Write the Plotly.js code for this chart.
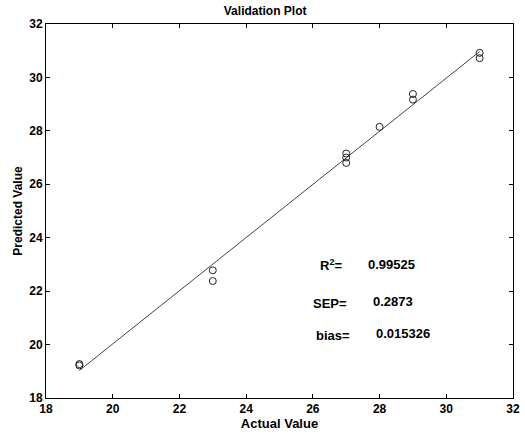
<!DOCTYPE html>
<html>
<head>
<meta charset="utf-8">
<script src="https://cdn.plot.ly/plotly-3.0.1.min.js"></script>
<style>html,body{margin:0;padding:0;background:#fff;}</style>
</head>
<body>
<div id="chart" style="width:525px;height:434px;"></div>
<script>
// Data
var actual    = [19, 19, 23, 23, 27, 27, 27, 28, 29, 29, 31, 31];
var predicted = [19.22, 19.27, 22.78, 22.38, 27.15, 27.0, 26.8, 28.15, 29.38, 29.17, 30.92, 30.72];
var fitX = [19, 31];
var fitY = [19.03, 30.97];
var xTicks = [18, 20, 22, 24, 26, 28, 30, 32];
var yTicks = [18, 20, 22, 24, 26, 28, 30, 32];
var statLabels = ["R<sup>2</sup>=", "SEP=", "bias="];
var statValues = ["0.99525", "0.2873", "0.015326"];

var fam = "Liberation Sans, Arial, sans-serif";

var traces = [
  {x: fitX, y: fitY, mode: "lines", type: "scatter",
   line: {color: "#444", width: 1}, hoverinfo: "skip"},
  {x: actual, y: predicted, mode: "markers", type: "scatter",
   marker: {symbol: "circle-open", size: 7, color: "#222", line: {width: 1, color: "#222"}}}
];

// annotation placement (data coords)
var labelX = [26.54, 26.51, 26.6];
var labelY = [22.98, 21.55, 20.33];
var valueX = [28.37, 28.4, 28.7];
var valueY = [22.98, 21.63, 20.42];
var annotations = [];
for (var i = 0; i < statLabels.length; i++) {
  annotations.push({x: labelX[i], y: labelY[i], xref: "x", yref: "y", text: "<b>" + statLabels[i] + "</b>",
    showarrow: false, xanchor: "center", yanchor: "middle", font: {family: fam, size: 13, color: "#000"}});
  annotations.push({x: valueX[i], y: valueY[i], xref: "x", yref: "y", text: "<b>" + statValues[i] + "</b>",
    showarrow: false, xanchor: "center", yanchor: "middle", font: {family: fam, size: 13, color: "#000"}});
}

var axisCommon = {
  showgrid: false, zeroline: false, showline: true, linecolor: "#000", linewidth: 1,
  mirror: "ticks", ticks: "inside", ticklen: 4, tickcolor: "#000",
  tickfont: {family: fam, size: 12, color: "#000", weight: "bold"}
};

var layout = {
  width: 525, height: 434,
  margin: {l: 46, r: 12, t: 24, b: 36},
  paper_bgcolor: "#fff", plot_bgcolor: "#fff",
  showlegend: false,
  title: {text: "<b>Validation Plot</b>", x: 0.505, xanchor: "center", y: 0.985, yanchor: "top",
          font: {family: fam, size: 12, color: "#000"}},
  xaxis: Object.assign({}, axisCommon, {range: [18, 32], tickvals: xTicks, ticktext: xTicks.map(String),
          title: {text: "<b>Actual Value</b>", standoff: 3, font: {family: fam, size: 13, color: "#000"}}}),
  yaxis: Object.assign({}, axisCommon, {range: [18, 32], tickvals: yTicks, ticktext: yTicks.map(String),
          title: {text: "<b>Predicted Value</b>", standoff: 4, font: {family: fam, size: 12, color: "#000"}}}),
  annotations: annotations
};

Plotly.newPlot("chart", traces, layout, {displayModeBar: false, staticPlot: true});
</script>
</body>
</html>
